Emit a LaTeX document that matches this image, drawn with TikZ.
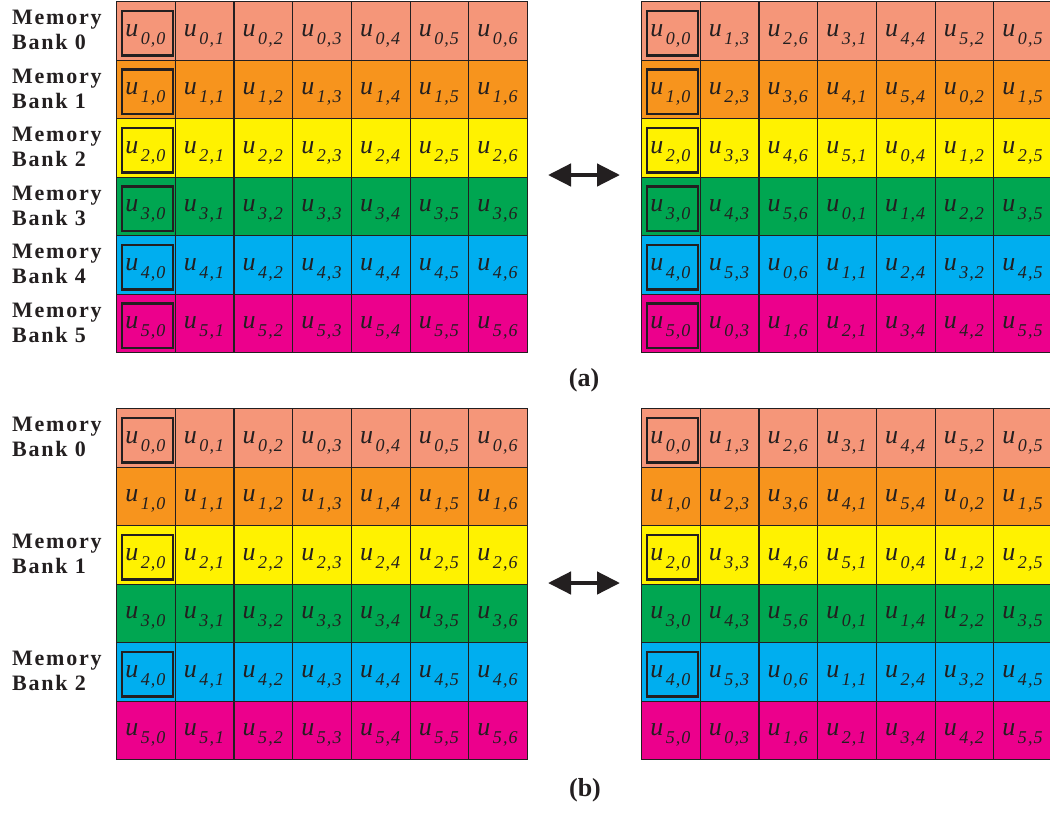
\documentclass[tikz,border=0pt]{standalone}
\usepackage{fontspec}
\setmainfont{Liberation Serif}
\usepackage{xcolor}
\usepackage{tikz}
\usetikzlibrary{arrows.meta}

\newcommand{\uidx}[2]{\textit{u}\hspace{2.5pt}\raisebox{-8pt}{\fontsize{18}{18}\selectfont\addfontfeature{LetterSpace=6}\textit{#1,#2}}}

\tikzset{
  cell/.style={draw=ldark,line width=1.1pt,minimum width=58.7pt,minimum height=58.5pt,
    inner sep=0pt,anchor=north west,text height=16pt,text depth=5pt,
    font=\fontsize{26}{26}\selectfont,text=ldark},
  pickbox/.style={draw=ldark,line width=2.6pt},
  banklabel/.style={anchor=west,align=left,inner sep=0pt,text=ldark,
    font=\fontsize{22}{25}\selectfont\bfseries\addfontfeature{LetterSpace=8}},
  dblarrow/.style={{Triangle[length=23pt,width=22pt]}-{Triangle[length=23pt,width=22pt]},
    line width=4.5pt,draw=ldark},
  caption/.style={font=\fontsize{26}{26}\selectfont\bfseries,text=ldark}
}

\begin{document}
\begin{tikzpicture}[x=1pt,y=-1pt]
  \definecolor{ldark}{RGB}{35,31,32}
  \definecolor{lsalmon}{RGB}{245,150,121}
  \definecolor{lorange}{RGB}{247,148,29}
  \definecolor{lyellow}{RGB}{255,242,0}
  \definecolor{lgreen}{RGB}{0,166,81}
  \definecolor{lcyan}{RGB}{0,174,239}
  \definecolor{lmagenta}{RGB}{236,0,140}
  \useasboundingbox (0,0) rectangle (1050,812);
  % (a) original layout and skewed layout
  \foreach \r/\rowcol in {0/lsalmon,1/lorange,2/lyellow,3/lgreen,4/lcyan,5/lmagenta} {
    \foreach \c in {0,...,6}
      \node[cell,fill=\rowcol] (aL-\r-\c) at ({116+58.7*\c},{1+58.5*\r}) {\uidx{\r}{\c}};
    \foreach \c/\s in {0/0,1/3,2/6,3/1,4/4,5/2,6/5} {
      \pgfmathtruncatemacro{\f}{mod(\r+\c,6)}
      \node[cell,fill=\rowcol] (aR-\r-\c) at ({641+58.7*\c},{1+58.5*\r}) {\uidx{\f}{\s}};
    }
    \draw[pickbox] ([shift={(6pt,-10pt)}]aL-\r-0.north west) rectangle ([shift={(-3pt,5pt)}]aL-\r-0.south east);
    \draw[pickbox] ([shift={(6pt,-10pt)}]aR-\r-0.north west) rectangle ([shift={(-3pt,5pt)}]aR-\r-0.south east);
    \node[banklabel] (bankA-\r) at ({12},{30.25+58.5*\r}) {Memory\\Bank \r};
  }
  % (b) same tables, three banks
  \foreach \r/\rowcol in {0/lsalmon,1/lorange,2/lyellow,3/lgreen,4/lcyan,5/lmagenta} {
    \foreach \c in {0,...,6}
      \node[cell,fill=\rowcol] (bL-\r-\c) at ({116+58.7*\c},{408+58.5*\r}) {\uidx{\r}{\c}};
    \foreach \c/\s in {0/0,1/3,2/6,3/1,4/4,5/2,6/5} {
      \pgfmathtruncatemacro{\f}{mod(\r+\c,6)}
      \node[cell,fill=\rowcol] (bR-\r-\c) at ({641+58.7*\c},{408+58.5*\r}) {\uidx{\f}{\s}};
    }
  }
  \foreach \r/\b in {0/0,2/1,4/2} {
    \draw[pickbox] ([shift={(6pt,-10pt)}]bL-\r-0.north west) rectangle ([shift={(-3pt,5pt)}]bL-\r-0.south east);
    \draw[pickbox] ([shift={(6pt,-10pt)}]bR-\r-0.north west) rectangle ([shift={(-3pt,5pt)}]bR-\r-0.south east);
    \node[banklabel] (bankB-\b) at ({12},{437.25+58.5*\r}) {Memory\\Bank \b};
  }
  % arrows and captions
  \coordinate (arrA-l) at (548,175);
  \coordinate (arrA-r) at (620,175);
  \coordinate (arrB-l) at (548,583);
  \coordinate (arrB-r) at (620,583);
  \draw[dblarrow] (arrA-l) -- (arrA-r);
  \draw[dblarrow] (arrB-l) -- (arrB-r);
  \node[caption] (capA) at (584,380) {(a)};
  \node[caption] (capB) at (585,790) {(b)};
\end{tikzpicture}
\end{document}
